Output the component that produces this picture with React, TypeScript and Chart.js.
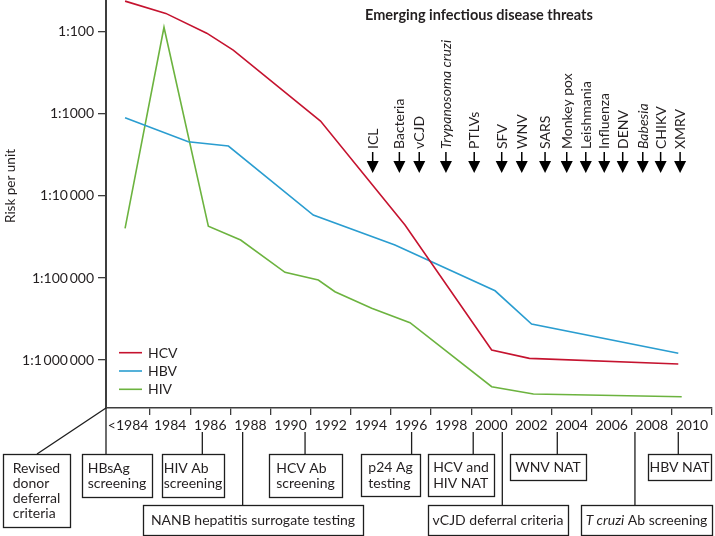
import React, { useEffect, useRef } from 'react';
import { Chart, registerables } from 'chart.js';

Chart.register(...registerables);

// ---------- data ----------
const hcvYears = [1981.75, 1983.78, 1985.82, 1987.14, 1991.49, 1995.7, 2000.02, 2001.9, 2009.32];
const hcvRisk = [42.3, 59.7, 104, 167, 1225, 22600, 754000, 951000, 1114000];

const hbvYears = [1981.75, 1984.9, 1986.9, 1991.13, 1995.2, 2000.19, 2002.01, 2009.32];
const hbvRisk = [1114, 2188, 2466, 17100, 39600, 143000, 363000, 826000];

const hivYears = [1981.75, 1983.69, 1985.9, 1987.51, 1989.72, 1991.38, 1992.21, 1994.04, 1995.95, 2000.02, 2002.1, 2009.49];
const hivRisk = [24800, 88, 23300, 34400, 85100, 105700, 147000, 234000, 350000, 2110000, 2590000, 2790000];

const seriesNames = ['HCV', 'HBV', 'HIV'];

const yTickValues = [100, 1000, 10000, 100000, 1000000];
const yTickLabels = ['1:100', '1:1000', '1:10\u2009000', '1:100\u2009000', '1:1\u2009000\u2009000'];

const xLabels = ['<1984', '1984', '1986', '1988', '1990', '1992', '1994', '1996', '1998', '2000', '2002', '2004', '2006', '2008', '2010'];
const xLabelYears = [1981.9, 1984, 1986, 1988, 1990, 1992, 1994, 1996, 1998, 2000, 2002, 2004, 2006, 2008, 2010];
const xTickYears = [1983, 1985, 1987, 1989, 1991, 1993, 1995, 1997, 1999, 2001, 2003, 2005, 2007, 2009, 2011];

const threatTitle = 'Emerging infectious disease threats';
const threatLabels = ['ICL', 'Bacteria', 'vCJD', 'Trypanosoma cruzi', 'PTLVs', 'SFV', 'WNV', 'SARS', 'Monkey pox', 'Leishmania', 'Influenza', 'DENV', 'Babesia', 'CHIKV', 'XMRV'];
const threatItalic = [false, false, false, true, false, false, false, false, false, false, false, false, true, false, false];
const threatYears = [1994.09, 1995.42, 1996.41, 1997.74, 1999.15, 2000.52, 2001.52, 2002.68, 2003.76, 2004.71, 2005.63, 2006.55, 2007.55, 2008.44, 2009.41];

const interventionLabels = [
  'Revised\ndonor\ndeferral\ncriteria',
  'HBsAg\nscreening',
  'HIV Ab\nscreening',
  'NANB hepatitis surrogate testing',
  'HCV Ab\nscreening',
  'p24 Ag\ntesting',
  'HCV and\nHIV NAT',
  'vCJD deferral criteria',
  'WNV NAT',
  '*T cruzi* Ab screening',
  'HBV NAT',
];
const interventionYears = [1980.8, 1980.8, 1985.6, 1987.61, 1990.72, 1996.03, 1999.1, 2000.55, 2003.29, 2007.16, 2009.32];

// ---------- layout / style ----------
const boxRects: number[][] = [
  [3, 454, 70, 527],
  [82, 454, 152, 497],
  [162, 454, 224, 497],
  [143, 505, 363, 535],
  [269, 454, 342, 497],
  [361, 454, 420, 496],
  [428, 454, 494, 496],
  [428, 505, 568, 535],
  [510, 454, 586, 480],
  [581, 505, 712, 535],
  [648, 454, 711, 480],
];

const FONT = 'Lato, "Open Sans", sans-serif';
const TEXT = '#231f20';
const AXIS = '#3d3d3d';
const COLORS = ['#c5132f', '#2a9dd0', '#6cb33f'];

function parseSegments(s: string) {
  const parts = s.split('*');
  return parts.map((t, i) => ({ t, italic: i % 2 === 1 })).filter((p) => p.t.length > 0);
}

function segWidth(ctx: CanvasRenderingContext2D, line: string, size: number) {
  let w = 0;
  for (const seg of parseSegments(line)) {
    ctx.font = `${seg.italic ? 'italic ' : ''}${size}px ${FONT}`;
    w += ctx.measureText(seg.t).width;
  }
  return w;
}

function drawSegLine(ctx: CanvasRenderingContext2D, line: string, x: number, y: number, size: number) {
  let cx = x;
  for (const seg of parseSegments(line)) {
    ctx.font = `${seg.italic ? 'italic ' : ''}${size}px ${FONT}`;
    ctx.fillText(seg.t, cx, y);
    cx += ctx.measureText(seg.t).width;
  }
}

const annotationPlugin = {
  id: 'annotations',
  afterDraw(chart: any) {
    const ctx: CanvasRenderingContext2D = chart.ctx;
    const xs = chart.scales.x;
    const area = chart.chartArea;
    ctx.save();

    // title of threats
    ctx.fillStyle = TEXT;
    ctx.textBaseline = 'middle';
    ctx.textAlign = 'left';
    ctx.font = `bold 14.5px ${FONT}`;
    ctx.fillText(threatTitle, 365, 15);

    // y axis title
    ctx.save();
    ctx.translate(11, 186);
    ctx.rotate(-Math.PI / 2);
    ctx.textAlign = 'center';
    ctx.font = `13.5px ${FONT}`;
    ctx.fillText('Risk per unit', 0, 0);
    ctx.restore();

    // threats arrows
    threatLabels.forEach((lab, i) => {
      const x = xs.getPixelForValue(threatYears[i]);
      ctx.save();
      ctx.translate(x, 149);
      ctx.rotate(-Math.PI / 2);
      ctx.textAlign = 'left';
      ctx.textBaseline = 'middle';
      ctx.fillStyle = TEXT;
      ctx.font = `${threatItalic[i] ? 'italic ' : ''}14px ${FONT}`;
      ctx.fillText(lab, 0, 0.5);
      ctx.restore();
      ctx.strokeStyle = '#000';
      ctx.lineWidth = 1.5;
      ctx.beginPath();
      ctx.moveTo(x, 152);
      ctx.lineTo(x, 162);
      ctx.stroke();
      ctx.fillStyle = '#000';
      ctx.beginPath();
      ctx.moveTo(x - 6, 161);
      ctx.lineTo(x + 6, 161);
      ctx.lineTo(x, 173);
      ctx.closePath();
      ctx.fill();
    });

    // legend
    chart.data.datasets.forEach((ds: any, i: number) => {
      const y = 352.7 + i * 18.3;
      ctx.strokeStyle = ds.borderColor;
      ctx.lineWidth = 1.6;
      ctx.beginPath();
      ctx.moveTo(119, y);
      ctx.lineTo(142, y);
      ctx.stroke();
      ctx.fillStyle = TEXT;
      ctx.font = `14px ${FONT}`;
      ctx.textAlign = 'left';
      ctx.textBaseline = 'middle';
      ctx.fillText(ds.label, 148, y + 0.5);
    });

    // x labels
    ctx.fillStyle = TEXT;
    ctx.font = `14px ${FONT}`;
    ctx.textAlign = 'center';
    ctx.textBaseline = 'middle';
    xLabels.forEach((lab, i) => {
      ctx.fillText(lab, xs.getPixelForValue(xLabelYears[i]), 425);
    });

    // intervention boxes
    ctx.strokeStyle = '#1e1e1e';
    ctx.lineWidth = 1.3;
    interventionLabels.forEach((lab, i) => {
      const [x1, y1, x2, y2] = boxRects[i];
      const cx = xs.getPixelForValue(interventionYears[i]);
      ctx.beginPath();
      if (i === 0) {
        ctx.moveTo(cx, area.bottom);
        ctx.lineTo(37, y1);
      } else if (i === 1) {
        ctx.moveTo(cx, area.bottom);
        ctx.lineTo(cx, y1);
      } else {
        ctx.moveTo(cx, 432);
        ctx.lineTo(cx, y1);
      }
      ctx.stroke();
      ctx.strokeRect(x1 + 0.5, y1 + 0.5, x2 - x1, y2 - y1);

      const lines = lab.split('\n');
      const size = 14;
      const lh = 15.3;
      let maxW = 0;
      lines.forEach((l) => { maxW = Math.max(maxW, segWidth(ctx, l, size)); });
      const tx = (x1 + x2) / 2 - maxW / 2;
      const cy = (y1 + y2) / 2;
      ctx.fillStyle = TEXT;
      ctx.textAlign = 'left';
      ctx.textBaseline = 'middle';
      lines.forEach((l, k) => {
        const ly = cy + (k - (lines.length - 1) / 2) * lh + 0.5;
        drawSegLine(ctx, l, tx, ly, size);
      });
    });

    ctx.restore();
  },
};

export default function App() {
  const ref = useRef<HTMLCanvasElement | null>(null);
  useEffect(() => {
    if (!ref.current) return;
    const mk = (years: number[], vals: number[]) => years.map((x, i) => ({ x, y: vals[i] }));
    const chart = new Chart(ref.current, {
      type: 'line',
      data: {
        datasets: [
          { label: seriesNames[0], data: mk(hcvYears, hcvRisk), borderColor: COLORS[0], borderWidth: 1.6, pointRadius: 0, tension: 0, fill: false },
          { label: seriesNames[1], data: mk(hbvYears, hbvRisk), borderColor: COLORS[1], borderWidth: 1.6, pointRadius: 0, tension: 0, fill: false },
          { label: seriesNames[2], data: mk(hivYears, hivRisk), borderColor: COLORS[2], borderWidth: 1.6, pointRadius: 0, tension: 0, fill: false },
        ],
      },
      options: {
        responsive: false,
        animation: false,
        layout: { padding: { left: 0, right: 3, top: 0, bottom: 0 } },
        plugins: { legend: { display: false }, tooltip: { enabled: false }, title: { display: false } },
        scales: {
          x: {
            type: 'linear',
            bounds: 'data',
            min: 1980.8,
            max: 2011,
            afterBuildTicks: (s: any) => { s.ticks = xTickYears.map((v) => ({ value: v })); },
            afterFit: (s: any) => { s.height = 128; s.paddingLeft = 0; s.paddingRight = 0; },
            ticks: { display: false },
            grid: { drawOnChartArea: false, drawTicks: true, tickLength: 7, color: AXIS, lineWidth: 1.3 },
            border: { display: true, color: AXIS, width: 1.6 },
          },
          y: {
            type: 'logarithmic',
            bounds: 'data',
            reverse: true,
            min: 41,
            max: 3830000,
            afterBuildTicks: (s: any) => { s.ticks = yTickValues.map((v) => ({ value: v })); },
            afterFit: (s: any) => { s.width = 106; s.paddingTop = 0; s.paddingBottom = 0; },
            ticks: {
              autoSkip: false,
              padding: 4,
              color: TEXT,
              font: { family: FONT, size: 14 },
              callback: (v: any) => {
                const idx = yTickValues.indexOf(Number(v));
                return idx >= 0 ? yTickLabels[idx] : '';
              },
            },
            grid: { drawOnChartArea: false, drawTicks: true, tickLength: 8, color: AXIS, lineWidth: 1.3 },
            border: { display: true, color: AXIS, width: 2 },
          },
        },
      } as any,
      plugins: [annotationPlugin],
    });
    return () => chart.destroy();
  }, []);
  return (
    <div style={{ position: 'fixed', left: 0, top: 0, width: 715, height: 536, background: '#fff' }}>
      <canvas ref={ref} width={715} height={536} style={{ display: 'block', width: 715, height: 536 }} />
    </div>
  );
}
